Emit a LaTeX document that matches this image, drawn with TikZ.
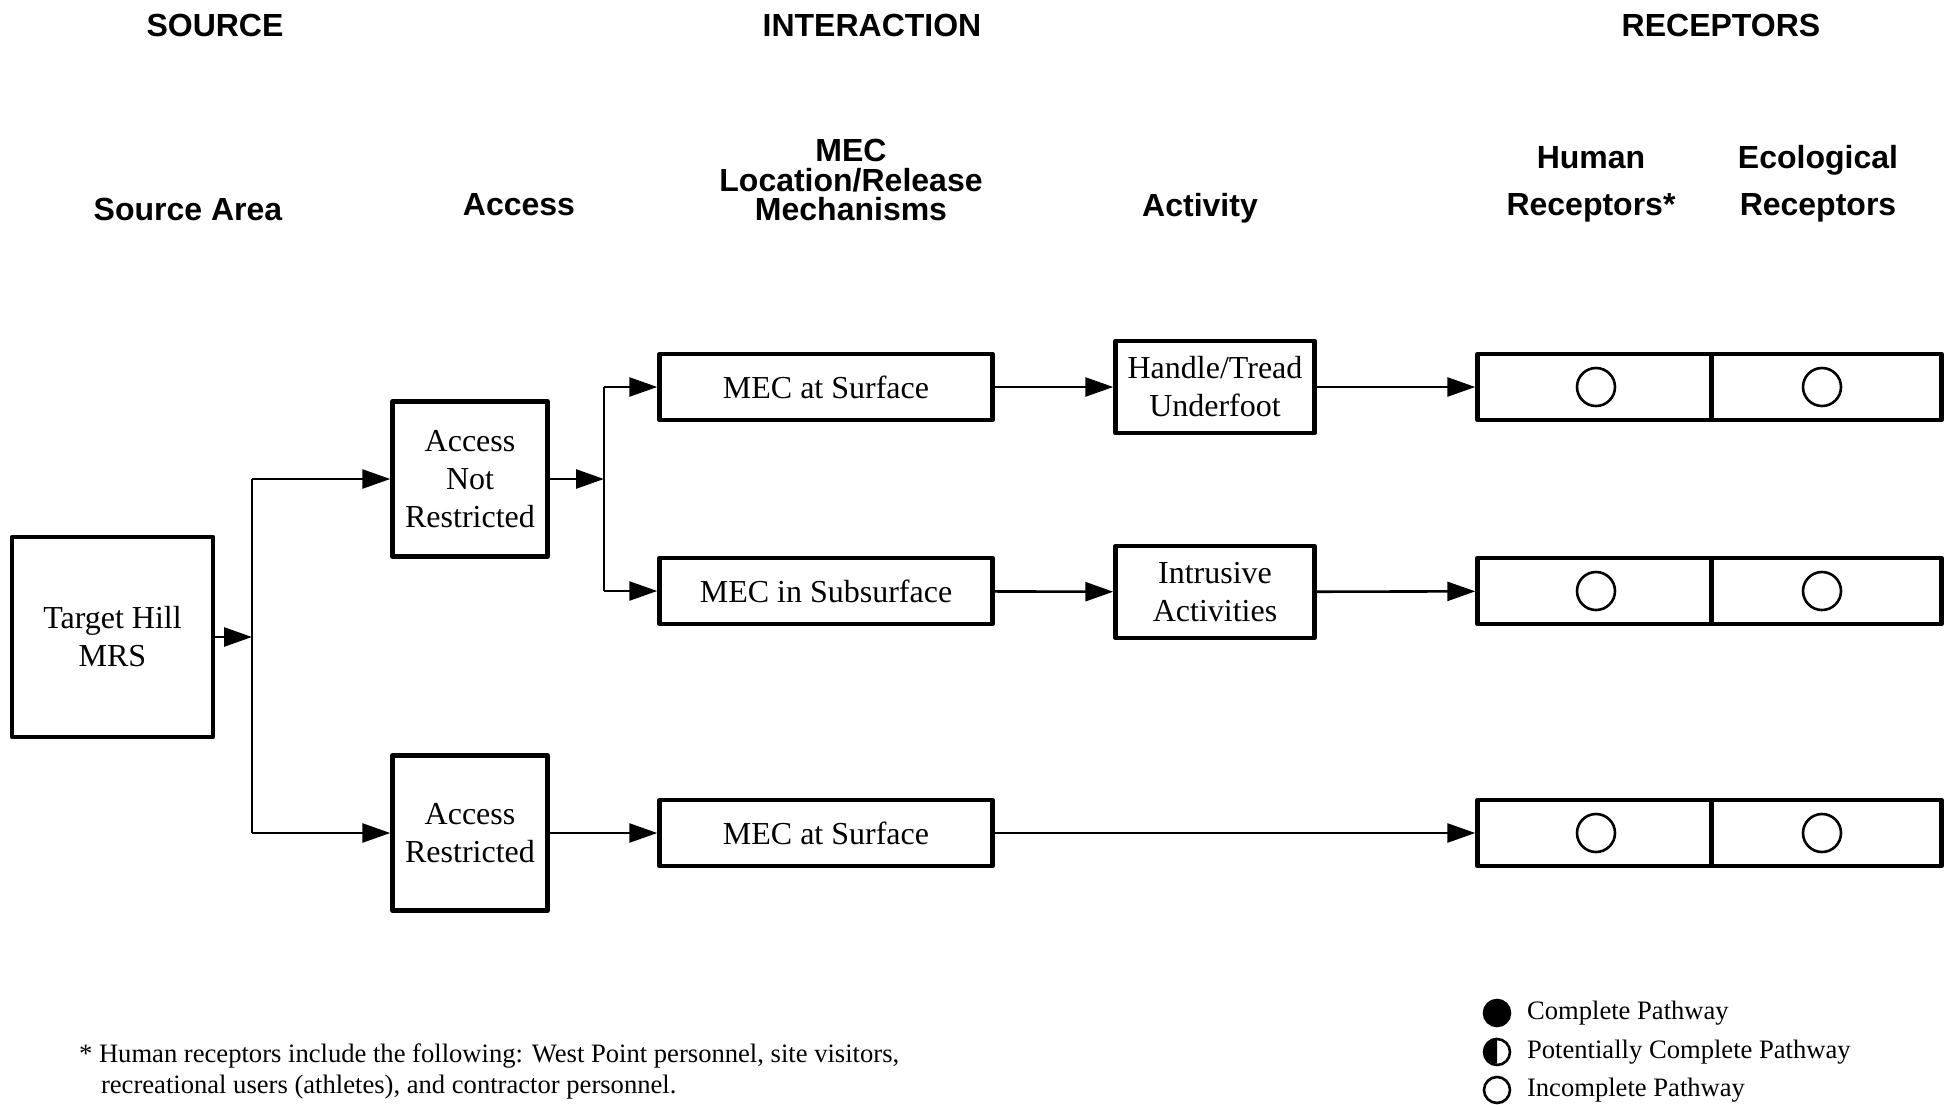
\documentclass[tikz,border=0pt]{standalone}
\usepackage{fontspec}
\setmainfont{Liberation Serif}
\setsansfont{Liberation Sans}
\usetikzlibrary{arrows.meta}

\begin{document}
\begin{tikzpicture}[x=0.5pt, y=-0.5pt,
  box/.style={draw, line width=2.2pt, line join=round, inner sep=0pt, align=center, font=\fontsize{16}{19}\selectfont},
  hdr/.style={align=center, font=\sffamily\bfseries\fontsize{16}{19}\selectfont},
  cell/.style={draw, line width=2.2pt, line join=round, inner sep=0pt, minimum width=116pt, minimum height=33pt},
  ring/.style={draw, circle, line width=1.3pt, inner sep=0pt, minimum size=19pt},
  key/.style={draw, circle, line width=1.3pt, inner sep=0pt, minimum size=13pt},
  note/.style={align=left, font=\fontsize{13.3}{15.5}\selectfont},
  arr/.style={-{Triangle[length=14pt, width=9.5pt]}, line width=1.3pt},
  wire/.style={line width=1.3pt}]
  \useasboundingbox (0,0) rectangle (1950,1104);
  % column titles
  \node[hdr] (tsrc) at (215,25) {SOURCE};
  \node[hdr] (tint) at (872,25) {INTERACTION};
  \node[hdr] (trec) at (1721,25) {RECEPTORS};
  \node[hdr] (hsrc) at (188,209) {Source Area};
  \node[hdr] (hacc) at (519,205) {Access};
  \node[hdr, font=\sffamily\bfseries\fontsize{16}{14.6}\selectfont] (hmec) at (851,180) {MEC\\Location/Release\\Mechanisms};
  \node[hdr] (hact) at (1200,208) {Activity};
  \node[hdr, font=\sffamily\bfseries\fontsize{16}{23.6}\selectfont] (hhum) at (1591,184) {Human\\Receptors*};
  \node[hdr, font=\sffamily\bfseries\fontsize{16}{23.6}\selectfont] (heco) at (1818,184) {Ecological\\Receptors};
  % boxes
  \node[box, minimum width=100.5pt, minimum height=100pt] (src) at (112.5,637) {Target Hill\\MRS};
  \node[box, minimum width=77.5pt, minimum height=77.5pt] (anr) at (470,479) {Access\\Not\\Restricted};
  \node[box, minimum width=77.5pt, minimum height=77.5pt] (ar) at (470,833) {Access\\Restricted};
  \node[box, minimum width=166.5pt, minimum height=33pt] (mec1) at (826,387) {MEC at Surface};
  \node[box, minimum width=166.5pt, minimum height=33pt] (mec2) at (826,591) {MEC in Subsurface};
  \node[box, minimum width=166.5pt, minimum height=33pt] (mec3) at (826,833) {MEC at Surface};
  \node[box, minimum width=99.5pt, minimum height=46pt] (ht) at (1215,387) {Handle/Tread\\Underfoot};
  \node[box, minimum width=99.5pt, minimum height=46pt] (ia) at (1215,592) {Intrusive\\Activities};
  \foreach \r/\yy in {1/387,2/591,3/833}{
    \node[cell, minimum width=117pt] (hum\r) at (1594.5,\yy) {};
    \node[cell, minimum width=115pt] (eco\r) at (1826.5,\yy) {};
    \node[ring] (hc\r) at (1596,\yy) {};
    \node[ring] (ec\r) at (1822,\yy) {};}
  % connectors
  \coordinate (ja) at (252,637);
  \coordinate (jb) at (604,479);
  \draw[arr] (src) -- (ja);
  \draw[wire] (ja |- anr) -- (ja |- ar);
  \draw[arr] (ja |- anr) -- (anr);
  \draw[arr] (ja |- ar) -- (ar);
  \draw[arr] (anr) -- (jb);
  \draw[wire] (jb |- mec1) -- (jb |- mec2);
  \draw[arr] (jb |- mec1) -- (mec1);
  \draw[arr] (jb |- mec2) -- (mec2);
  \draw[arr] (ar) -- (mec3);
  \draw[arr] (mec1) -- (ht);
  \draw[arr] (mec2) -- (ia);
  \draw[arr] (ht) -- (hum1);
  \draw[arr] (ia) -- (hum2);
  \draw[arr] (mec3) -- (hum3);
  % key and footnote
  \node[key, fill=black] (lc1) at (1497,1013) {};
  \node[key] (lc2) at (1497,1052) {};
  \fill (lc2.north) arc[start angle=90, end angle=270, radius=6.5pt] -- cycle;
  \node[key] (lc3) at (1497,1090) {};
  \node[note, anchor=west] (lg1) at (1520,1013) {Complete Pathway};
  \node[note, anchor=west] (lg2) at (1520,1052) {Potentially Complete Pathway};
  \node[note, anchor=west] (lg3) at (1520,1090) {Incomplete Pathway};
  \node[note, anchor=west] (fn) at (72,1071) {* Human receptors include the following: West Point personnel, site visitors,\\\hspace*{11pt}recreational users (athletes), and contractor personnel.};
\end{tikzpicture}
\end{document}
